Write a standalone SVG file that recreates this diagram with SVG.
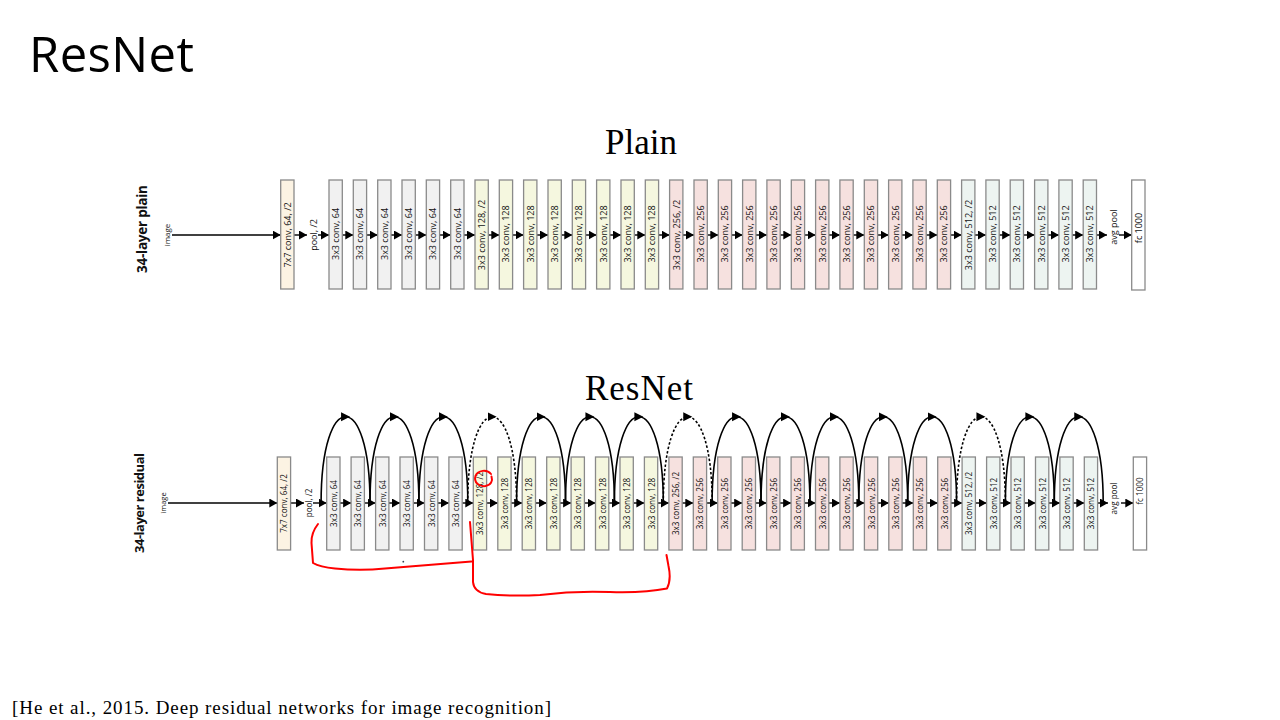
<svg xmlns="http://www.w3.org/2000/svg" width="1280" height="720" viewBox="0 0 1280 720">
<style>
.b{stroke:#8a8a8a;stroke-width:1.3}
.c7{fill:#fcf3e3}.c64{fill:#f1f1f1}.c128{fill:#f5f7df}.c256{fill:#f6e1df}.c512{fill:#edf4f1}.cfc{fill:#ffffff}
.t{font-family:"Open Sans","DejaVu Sans",sans-serif;font-size:9px;fill:#111;text-anchor:middle;dominant-baseline:central}
.tr{font-size:8.1px}
.lbl{font-family:"Open Sans","DejaVu Sans",sans-serif;fill:#111;text-anchor:middle;dominant-baseline:central}
.ar{stroke:#000;stroke-width:1.4;fill:none;marker-end:url(#ah)}
.arc{stroke:#000;stroke-width:1.6;fill:none;marker-mid:url(#am)}
.dash{stroke-dasharray:2.5 2}
.red{stroke:#f00;stroke-width:2;fill:none;stroke-linecap:round;stroke-linejoin:round}
</style>
<defs>
<marker id="ah" markerUnits="userSpaceOnUse" markerWidth="9" markerHeight="10" refX="8" refY="4.5" orient="auto"><path d="M0,0 L8,4.5 L0,9 z" fill="#000"/></marker>
<marker id="am" markerUnits="userSpaceOnUse" markerWidth="10" markerHeight="10" refX="4.5" refY="4.5" orient="auto"><path d="M0,0 L9,4.5 L0,9 z" fill="#000"/></marker>
</defs>
<rect width="1280" height="720" fill="#fff"/>
<text x="29" y="72" font-family="Open Sans, sans-serif" font-size="49" textLength="165" fill="#000">ResNet</text>
<text x="641" y="154" font-family="Liberation Serif, serif" font-size="35" text-anchor="middle" fill="#000">Plain</text>
<text x="639" y="400" font-family="Liberation Serif, serif" font-size="35" text-anchor="middle" textLength="108" fill="#000">ResNet</text>
<text x="12" y="714" font-family="Liberation Serif, serif" font-size="19" textLength="539" fill="#000">[He et al., 2015. Deep residual networks for image recognition]</text>

<g id="labels">
<text class="lbl" font-weight="bold" font-size="13.5" textLength="88" transform="translate(142,229) rotate(-90)">34-layer plain</text>
<text class="lbl" font-size="8" transform="translate(166,235) rotate(-90)">image</text>
<text class="lbl" font-size="9" transform="translate(313.5,235) rotate(-90)">pool, /2</text>
<text class="lbl" font-size="9" transform="translate(1113.5,227) rotate(-90)">avg pool</text>
<text class="lbl" font-weight="bold" font-size="13" textLength="100" transform="translate(139,503) rotate(-90)">34-layer residual</text>
<text class="lbl" font-size="7.5" transform="translate(162.5,503) rotate(-90)">image</text>
<text class="lbl" font-size="8.1" transform="translate(308.5,503) rotate(-90)">pool, /2</text>
<text class="lbl" font-size="8.1" transform="translate(1113.5,498.5) rotate(-90)">avg pool</text>
</g>

<g id="connectors">
<line class="ar" x1="172" y1="235" x2="280.7" y2="235"/>
<line class="ar" x1="294" y1="235" x2="307" y2="235"/>
<line class="ar" x1="318" y1="235" x2="329" y2="235"/>
<line class="ar" x1="342.3" y1="235" x2="353.3" y2="235"/>
<line class="ar" x1="366.6" y1="235" x2="377.7" y2="235"/>
<line class="ar" x1="391" y1="235" x2="402" y2="235"/>
<line class="ar" x1="415.3" y1="235" x2="426.3" y2="235"/>
<line class="ar" x1="439.6" y1="235" x2="450.7" y2="235"/>
<line class="ar" x1="464" y1="235" x2="475" y2="235"/>
<line class="ar" x1="488.3" y1="235" x2="499.3" y2="235"/>
<line class="ar" x1="512.6" y1="235" x2="523.6" y2="235"/>
<line class="ar" x1="536.9" y1="235" x2="548" y2="235"/>
<line class="ar" x1="561.3" y1="235" x2="572.3" y2="235"/>
<line class="ar" x1="585.6" y1="235" x2="596.6" y2="235"/>
<line class="ar" x1="609.9" y1="235" x2="621" y2="235"/>
<line class="ar" x1="634.3" y1="235" x2="645.3" y2="235"/>
<line class="ar" x1="658.6" y1="235" x2="669.6" y2="235"/>
<line class="ar" x1="682.9" y1="235" x2="694" y2="235"/>
<line class="ar" x1="707.3" y1="235" x2="718.3" y2="235"/>
<line class="ar" x1="731.6" y1="235" x2="742.6" y2="235"/>
<line class="ar" x1="755.9" y1="235" x2="766.9" y2="235"/>
<line class="ar" x1="780.2" y1="235" x2="791.3" y2="235"/>
<line class="ar" x1="804.6" y1="235" x2="815.6" y2="235"/>
<line class="ar" x1="828.9" y1="235" x2="839.9" y2="235"/>
<line class="ar" x1="853.2" y1="235" x2="864.3" y2="235"/>
<line class="ar" x1="877.6" y1="235" x2="888.6" y2="235"/>
<line class="ar" x1="901.9" y1="235" x2="912.9" y2="235"/>
<line class="ar" x1="926.2" y1="235" x2="937.3" y2="235"/>
<line class="ar" x1="950.6" y1="235" x2="961.6" y2="235"/>
<line class="ar" x1="974.9" y1="235" x2="985.9" y2="235"/>
<line class="ar" x1="999.2" y1="235" x2="1010.2" y2="235"/>
<line class="ar" x1="1023.5" y1="235" x2="1034.6" y2="235"/>
<line class="ar" x1="1047.9" y1="235" x2="1058.9" y2="235"/>
<line class="ar" x1="1072.2" y1="235" x2="1083.2" y2="235"/>
<line class="ar" x1="1096.5" y1="235" x2="1107" y2="235"/>
<line class="ar" x1="1119" y1="235" x2="1131.7" y2="235"/>

<line class="ar" x1="168" y1="503" x2="277.3" y2="503"/>
<line class="ar" x1="290.6" y1="503" x2="304" y2="503"/>
<line class="ar" x1="313" y1="503" x2="326.7" y2="503"/>
<line class="ar" x1="340" y1="503" x2="351.1" y2="503"/>
<line class="ar" x1="364.4" y1="503" x2="375.6" y2="503"/>
<line class="ar" x1="388.9" y1="503" x2="400" y2="503"/>
<line class="ar" x1="413.3" y1="503" x2="424.5" y2="503"/>
<line class="ar" x1="437.8" y1="503" x2="448.9" y2="503"/>
<line class="ar" x1="462.2" y1="503" x2="473.3" y2="503"/>
<line class="ar" x1="486.6" y1="503" x2="497.8" y2="503"/>
<line class="ar" x1="511.1" y1="503" x2="522.2" y2="503"/>
<line class="ar" x1="535.5" y1="503" x2="546.7" y2="503"/>
<line class="ar" x1="560" y1="503" x2="571.1" y2="503"/>
<line class="ar" x1="584.4" y1="503" x2="595.5" y2="503"/>
<line class="ar" x1="608.8" y1="503" x2="620" y2="503"/>
<line class="ar" x1="633.3" y1="503" x2="644.4" y2="503"/>
<line class="ar" x1="657.7" y1="503" x2="668.9" y2="503"/>
<line class="ar" x1="682.2" y1="503" x2="693.3" y2="503"/>
<line class="ar" x1="706.6" y1="503" x2="717.7" y2="503"/>
<line class="ar" x1="731" y1="503" x2="742.2" y2="503"/>
<line class="ar" x1="755.5" y1="503" x2="766.6" y2="503"/>
<line class="ar" x1="779.9" y1="503" x2="791.1" y2="503"/>
<line class="ar" x1="804.4" y1="503" x2="815.5" y2="503"/>
<line class="ar" x1="828.8" y1="503" x2="839.9" y2="503"/>
<line class="ar" x1="853.2" y1="503" x2="864.4" y2="503"/>
<line class="ar" x1="877.7" y1="503" x2="888.8" y2="503"/>
<line class="ar" x1="902.1" y1="503" x2="913.3" y2="503"/>
<line class="ar" x1="926.6" y1="503" x2="937.7" y2="503"/>
<line class="ar" x1="951" y1="503" x2="962.1" y2="503"/>
<line class="ar" x1="975.4" y1="503" x2="986.6" y2="503"/>
<line class="ar" x1="999.9" y1="503" x2="1011" y2="503"/>
<line class="ar" x1="1024.3" y1="503" x2="1035.5" y2="503"/>
<line class="ar" x1="1048.8" y1="503" x2="1059.9" y2="503"/>
<line class="ar" x1="1073.2" y1="503" x2="1084.3" y2="503"/>
<line class="ar" x1="1097.6" y1="503" x2="1108" y2="503"/>
<line class="ar" x1="1121" y1="503" x2="1133.3" y2="503"/>

<path class="arc" d="M321.1 503 c0 -57.5 12.225 -86.25 24.45 -86.25 c12.225 0 24.45 28.75 24.45 86.25"/>
<path class="arc" d="M370 503 c0 -57.5 12.225 -86.25 24.45 -86.25 c12.225 0 24.45 28.75 24.45 86.25"/>
<path class="arc" d="M418.9 503 c0 -57.5 12.225 -86.25 24.45 -86.25 c12.225 0 24.45 28.75 24.45 86.25"/>
<path class="arc dash" d="M467.7 503 c0 -57.5 12.225 -86.25 24.45 -86.25 c12.225 0 24.45 28.75 24.45 86.25"/>
<path class="arc" d="M516.6 503 c0 -57.5 12.225 -86.25 24.45 -86.25 c12.225 0 24.45 28.75 24.45 86.25"/>
<path class="arc" d="M565.5 503 c0 -57.5 12.225 -86.25 24.45 -86.25 c12.225 0 24.45 28.75 24.45 86.25"/>
<path class="arc" d="M614.4 503 c0 -57.5 12.225 -86.25 24.45 -86.25 c12.225 0 24.45 28.75 24.45 86.25"/>
<path class="arc dash" d="M663.3 503 c0 -57.5 12.225 -86.25 24.45 -86.25 c12.225 0 24.45 28.75 24.45 86.25"/>
<path class="arc" d="M712.1 503 c0 -57.5 12.225 -86.25 24.45 -86.25 c12.225 0 24.45 28.75 24.45 86.25"/>
<path class="arc" d="M761 503 c0 -57.5 12.225 -86.25 24.45 -86.25 c12.225 0 24.45 28.75 24.45 86.25"/>
<path class="arc" d="M809.9 503 c0 -57.5 12.225 -86.25 24.45 -86.25 c12.225 0 24.45 28.75 24.45 86.25"/>
<path class="arc" d="M858.8 503 c0 -57.5 12.225 -86.25 24.45 -86.25 c12.225 0 24.45 28.75 24.45 86.25"/>
<path class="arc" d="M907.7 503 c0 -57.5 12.225 -86.25 24.45 -86.25 c12.225 0 24.45 28.75 24.45 86.25"/>
<path class="arc dash" d="M956.5 503 c0 -57.5 12.225 -86.25 24.45 -86.25 c12.225 0 24.45 28.75 24.45 86.25"/>
<path class="arc" d="M1005.4 503 c0 -57.5 12.225 -86.25 24.45 -86.25 c12.225 0 24.45 28.75 24.45 86.25"/>
<path class="arc" d="M1054.3 503 c0 -57.5 12.225 -86.25 24.45 -86.25 c12.225 0 24.45 28.75 24.45 86.25"/>
</g>

<g id="plain">
<g id="p7x7" transform="translate(280.7,180)"><rect class="b c7" width="13.3" height="109"/><text class="t" transform="translate(6.65,55) rotate(-90)">7x7 conv, 64, /2</text></g>
<g id="p0" transform="translate(329,180)"><rect class="b c64" width="13.3" height="109"/><text class="t" transform="translate(6.65,54) rotate(-90)">3x3 conv, 64</text></g>
<g id="p1" transform="translate(353.3,180)"><rect class="b c64" width="13.3" height="109"/><text class="t" transform="translate(6.65,54) rotate(-90)">3x3 conv, 64</text></g>
<g id="p2" transform="translate(377.7,180)"><rect class="b c64" width="13.3" height="109"/><text class="t" transform="translate(6.65,54) rotate(-90)">3x3 conv, 64</text></g>
<g id="p3" transform="translate(402,180)"><rect class="b c64" width="13.3" height="109"/><text class="t" transform="translate(6.65,54) rotate(-90)">3x3 conv, 64</text></g>
<g id="p4" transform="translate(426.3,180)"><rect class="b c64" width="13.3" height="109"/><text class="t" transform="translate(6.65,54) rotate(-90)">3x3 conv, 64</text></g>
<g id="p5" transform="translate(450.7,180)"><rect class="b c64" width="13.3" height="109"/><text class="t" transform="translate(6.65,54) rotate(-90)">3x3 conv, 64</text></g>
<g id="p6" transform="translate(475,180)"><rect class="b c128" width="13.3" height="109"/><text class="t" transform="translate(6.65,55) rotate(-90)">3x3 conv, 128, /2</text></g>
<g id="p7" transform="translate(499.3,180)"><rect class="b c128" width="13.3" height="109"/><text class="t" transform="translate(6.65,54) rotate(-90)">3x3 conv, 128</text></g>
<g id="p8" transform="translate(523.6,180)"><rect class="b c128" width="13.3" height="109"/><text class="t" transform="translate(6.65,54) rotate(-90)">3x3 conv, 128</text></g>
<g id="p9" transform="translate(548,180)"><rect class="b c128" width="13.3" height="109"/><text class="t" transform="translate(6.65,54) rotate(-90)">3x3 conv, 128</text></g>
<g id="p10" transform="translate(572.3,180)"><rect class="b c128" width="13.3" height="109"/><text class="t" transform="translate(6.65,54) rotate(-90)">3x3 conv, 128</text></g>
<g id="p11" transform="translate(596.6,180)"><rect class="b c128" width="13.3" height="109"/><text class="t" transform="translate(6.65,54) rotate(-90)">3x3 conv, 128</text></g>
<g id="p12" transform="translate(621,180)"><rect class="b c128" width="13.3" height="109"/><text class="t" transform="translate(6.65,54) rotate(-90)">3x3 conv, 128</text></g>
<g id="p13" transform="translate(645.3,180)"><rect class="b c128" width="13.3" height="109"/><text class="t" transform="translate(6.65,54) rotate(-90)">3x3 conv, 128</text></g>
<g id="p14" transform="translate(669.6,180)"><rect class="b c256" width="13.3" height="109"/><text class="t" transform="translate(6.65,55) rotate(-90)">3x3 conv, 256, /2</text></g>
<g id="p15" transform="translate(694,180)"><rect class="b c256" width="13.3" height="109"/><text class="t" transform="translate(6.65,54) rotate(-90)">3x3 conv, 256</text></g>
<g id="p16" transform="translate(718.3,180)"><rect class="b c256" width="13.3" height="109"/><text class="t" transform="translate(6.65,54) rotate(-90)">3x3 conv, 256</text></g>
<g id="p17" transform="translate(742.6,180)"><rect class="b c256" width="13.3" height="109"/><text class="t" transform="translate(6.65,54) rotate(-90)">3x3 conv, 256</text></g>
<g id="p18" transform="translate(766.9,180)"><rect class="b c256" width="13.3" height="109"/><text class="t" transform="translate(6.65,54) rotate(-90)">3x3 conv, 256</text></g>
<g id="p19" transform="translate(791.3,180)"><rect class="b c256" width="13.3" height="109"/><text class="t" transform="translate(6.65,54) rotate(-90)">3x3 conv, 256</text></g>
<g id="p20" transform="translate(815.6,180)"><rect class="b c256" width="13.3" height="109"/><text class="t" transform="translate(6.65,54) rotate(-90)">3x3 conv, 256</text></g>
<g id="p21" transform="translate(839.9,180)"><rect class="b c256" width="13.3" height="109"/><text class="t" transform="translate(6.65,54) rotate(-90)">3x3 conv, 256</text></g>
<g id="p22" transform="translate(864.3,180)"><rect class="b c256" width="13.3" height="109"/><text class="t" transform="translate(6.65,54) rotate(-90)">3x3 conv, 256</text></g>
<g id="p23" transform="translate(888.6,180)"><rect class="b c256" width="13.3" height="109"/><text class="t" transform="translate(6.65,54) rotate(-90)">3x3 conv, 256</text></g>
<g id="p24" transform="translate(912.9,180)"><rect class="b c256" width="13.3" height="109"/><text class="t" transform="translate(6.65,54) rotate(-90)">3x3 conv, 256</text></g>
<g id="p25" transform="translate(937.3,180)"><rect class="b c256" width="13.3" height="109"/><text class="t" transform="translate(6.65,54) rotate(-90)">3x3 conv, 256</text></g>
<g id="p26" transform="translate(961.6,180)"><rect class="b c512" width="13.3" height="109"/><text class="t" transform="translate(6.65,55) rotate(-90)">3x3 conv, 512, /2</text></g>
<g id="p27" transform="translate(985.9,180)"><rect class="b c512" width="13.3" height="109"/><text class="t" transform="translate(6.65,54) rotate(-90)">3x3 conv, 512</text></g>
<g id="p28" transform="translate(1010.2,180)"><rect class="b c512" width="13.3" height="109"/><text class="t" transform="translate(6.65,54) rotate(-90)">3x3 conv, 512</text></g>
<g id="p29" transform="translate(1034.6,180)"><rect class="b c512" width="13.3" height="109"/><text class="t" transform="translate(6.65,54) rotate(-90)">3x3 conv, 512</text></g>
<g id="p30" transform="translate(1058.9,180)"><rect class="b c512" width="13.3" height="109"/><text class="t" transform="translate(6.65,54) rotate(-90)">3x3 conv, 512</text></g>
<g id="p31" transform="translate(1083.2,180)"><rect class="b c512" width="13.3" height="109"/><text class="t" transform="translate(6.65,54) rotate(-90)">3x3 conv, 512</text></g>
<g id="pfc" transform="translate(1131.7,180)"><rect class="b cfc" width="13.3" height="110"/><text class="t" transform="translate(6.65,48) rotate(-90)">fc 1000</text></g>
</g>

<g id="residual">
<g id="r7x7" transform="translate(277.3,457)"><rect class="b c7" width="13.3" height="93"/><text class="t tr" transform="translate(6.65,46.5) rotate(-90)">7x7 conv, 64, /2</text></g>
<g id="r0" transform="translate(326.7,457)"><rect class="b c64" width="13.3" height="93"/><text class="t tr" transform="translate(6.65,46.5) rotate(-90)">3x3 conv, 64</text></g>
<g id="r1" transform="translate(351.1,457)"><rect class="b c64" width="13.3" height="93"/><text class="t tr" transform="translate(6.65,46.5) rotate(-90)">3x3 conv, 64</text></g>
<g id="r2" transform="translate(375.6,457)"><rect class="b c64" width="13.3" height="93"/><text class="t tr" transform="translate(6.65,46.5) rotate(-90)">3x3 conv, 64</text></g>
<g id="r3" transform="translate(400,457)"><rect class="b c64" width="13.3" height="93"/><text class="t tr" transform="translate(6.65,46.5) rotate(-90)">3x3 conv, 64</text></g>
<g id="r4" transform="translate(424.5,457)"><rect class="b c64" width="13.3" height="93"/><text class="t tr" transform="translate(6.65,46.5) rotate(-90)">3x3 conv, 64</text></g>
<g id="r5" transform="translate(448.9,457)"><rect class="b c64" width="13.3" height="93"/><text class="t tr" transform="translate(6.65,46.5) rotate(-90)">3x3 conv, 64</text></g>
<g id="r6" transform="translate(473.3,457)"><rect class="b c128" width="13.3" height="93"/><text class="t tr" transform="translate(6.65,46.5) rotate(-90)">3x3 conv, 128, /2</text></g>
<g id="r7" transform="translate(497.8,457)"><rect class="b c128" width="13.3" height="93"/><text class="t tr" transform="translate(6.65,46.5) rotate(-90)">3x3 conv, 128</text></g>
<g id="r8" transform="translate(522.2,457)"><rect class="b c128" width="13.3" height="93"/><text class="t tr" transform="translate(6.65,46.5) rotate(-90)">3x3 conv, 128</text></g>
<g id="r9" transform="translate(546.7,457)"><rect class="b c128" width="13.3" height="93"/><text class="t tr" transform="translate(6.65,46.5) rotate(-90)">3x3 conv, 128</text></g>
<g id="r10" transform="translate(571.1,457)"><rect class="b c128" width="13.3" height="93"/><text class="t tr" transform="translate(6.65,46.5) rotate(-90)">3x3 conv, 128</text></g>
<g id="r11" transform="translate(595.5,457)"><rect class="b c128" width="13.3" height="93"/><text class="t tr" transform="translate(6.65,46.5) rotate(-90)">3x3 conv, 128</text></g>
<g id="r12" transform="translate(620,457)"><rect class="b c128" width="13.3" height="93"/><text class="t tr" transform="translate(6.65,46.5) rotate(-90)">3x3 conv, 128</text></g>
<g id="r13" transform="translate(644.4,457)"><rect class="b c128" width="13.3" height="93"/><text class="t tr" transform="translate(6.65,46.5) rotate(-90)">3x3 conv, 128</text></g>
<g id="r14" transform="translate(668.9,457)"><rect class="b c256" width="13.3" height="93"/><text class="t tr" transform="translate(6.65,46.5) rotate(-90)">3x3 conv, 256, /2</text></g>
<g id="r15" transform="translate(693.3,457)"><rect class="b c256" width="13.3" height="93"/><text class="t tr" transform="translate(6.65,46.5) rotate(-90)">3x3 conv, 256</text></g>
<g id="r16" transform="translate(717.7,457)"><rect class="b c256" width="13.3" height="93"/><text class="t tr" transform="translate(6.65,46.5) rotate(-90)">3x3 conv, 256</text></g>
<g id="r17" transform="translate(742.2,457)"><rect class="b c256" width="13.3" height="93"/><text class="t tr" transform="translate(6.65,46.5) rotate(-90)">3x3 conv, 256</text></g>
<g id="r18" transform="translate(766.6,457)"><rect class="b c256" width="13.3" height="93"/><text class="t tr" transform="translate(6.65,46.5) rotate(-90)">3x3 conv, 256</text></g>
<g id="r19" transform="translate(791.1,457)"><rect class="b c256" width="13.3" height="93"/><text class="t tr" transform="translate(6.65,46.5) rotate(-90)">3x3 conv, 256</text></g>
<g id="r20" transform="translate(815.5,457)"><rect class="b c256" width="13.3" height="93"/><text class="t tr" transform="translate(6.65,46.5) rotate(-90)">3x3 conv, 256</text></g>
<g id="r21" transform="translate(839.9,457)"><rect class="b c256" width="13.3" height="93"/><text class="t tr" transform="translate(6.65,46.5) rotate(-90)">3x3 conv, 256</text></g>
<g id="r22" transform="translate(864.4,457)"><rect class="b c256" width="13.3" height="93"/><text class="t tr" transform="translate(6.65,46.5) rotate(-90)">3x3 conv, 256</text></g>
<g id="r23" transform="translate(888.8,457)"><rect class="b c256" width="13.3" height="93"/><text class="t tr" transform="translate(6.65,46.5) rotate(-90)">3x3 conv, 256</text></g>
<g id="r24" transform="translate(913.3,457)"><rect class="b c256" width="13.3" height="93"/><text class="t tr" transform="translate(6.65,46.5) rotate(-90)">3x3 conv, 256</text></g>
<g id="r25" transform="translate(937.7,457)"><rect class="b c256" width="13.3" height="93"/><text class="t tr" transform="translate(6.65,46.5) rotate(-90)">3x3 conv, 256</text></g>
<g id="r26" transform="translate(962.1,457)"><rect class="b c512" width="13.3" height="93"/><text class="t tr" transform="translate(6.65,46.5) rotate(-90)">3x3 conv, 512, /2</text></g>
<g id="r27" transform="translate(986.6,457)"><rect class="b c512" width="13.3" height="93"/><text class="t tr" transform="translate(6.65,46.5) rotate(-90)">3x3 conv, 512</text></g>
<g id="r28" transform="translate(1011,457)"><rect class="b c512" width="13.3" height="93"/><text class="t tr" transform="translate(6.65,46.5) rotate(-90)">3x3 conv, 512</text></g>
<g id="r29" transform="translate(1035.5,457)"><rect class="b c512" width="13.3" height="93"/><text class="t tr" transform="translate(6.65,46.5) rotate(-90)">3x3 conv, 512</text></g>
<g id="r30" transform="translate(1059.9,457)"><rect class="b c512" width="13.3" height="93"/><text class="t tr" transform="translate(6.65,46.5) rotate(-90)">3x3 conv, 512</text></g>
<g id="r31" transform="translate(1084.3,457)"><rect class="b c512" width="13.3" height="93"/><text class="t tr" transform="translate(6.65,46.5) rotate(-90)">3x3 conv, 512</text></g>
<g id="rfc" transform="translate(1133.3,457)"><rect class="b cfc" width="13.3" height="93"/><text class="t tr" transform="translate(6.65,34) rotate(-90)">fc 1000</text></g>
</g>

<g id="annotations">
<path class="red" d="M318 524 Q311 533 311.5 543 L313 563 Q320 567 335 568.5 Q360 571 385 568.5 Q420 565.5 471.5 561.5"/>
<path class="red" d="M470 522 L473 560 L473 582 Q474 592 486 594 Q510 596.5 540 595 Q575 590.5 610 592 Q645 593 667 588.5 Q671.5 580 668.5 566 L666.5 555"/>
<path class="red" d="M491 474 C487 469 478 470 475.5 476 C473.5 482 479 487 485.5 486 C491 485 493 481 491.5 476.5"/>
<circle cx="403.3" cy="561.7" r="0.9" fill="#345"/>
</g>
</svg>
